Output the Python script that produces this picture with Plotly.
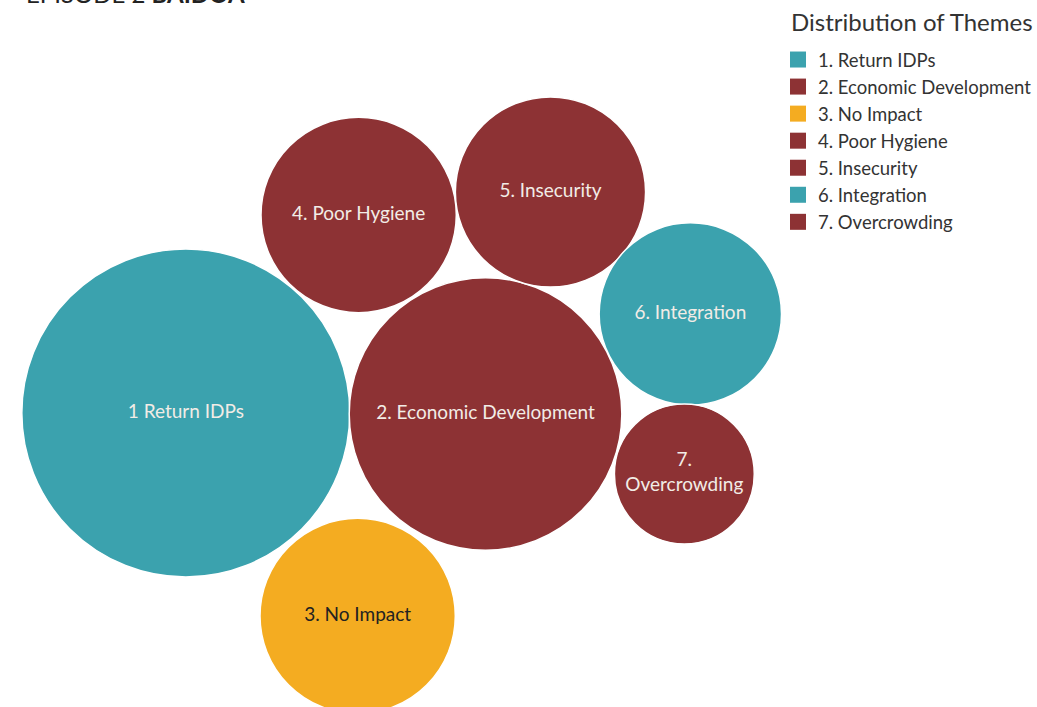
import plotly.graph_objects as go
import numpy as np

# Themes and (estimated) relative sizes
themes = ["1. Return IDPs", "2. Economic Development", "3. No Impact", "4. Poor Hygiene",
          "5. Insecurity", "6. Integration", "7. Overcrowding"]
bubble_labels = ["1 Return IDPs", "2. Economic Development", "3. No Impact", "4. Poor Hygiene",
                 "5. Insecurity", "6. Integration", "7.<br>Overcrowding"]
values = [55, 38, 19.5, 19.5, 18.5, 17, 10]
# packed layout positions (pixel-like coordinates)
pos_x = [186, 486, 358, 359, 551, 691, 685]
pos_y = [413, 414, 616, 215, 192, 314, 474]
colors = ["#3BA2AE", "#8D3234", "#F4AC21", "#8D3234", "#8D3234", "#3BA2AE", "#8D3234"]
text_colors = ["#F2ECE6", "#F2ECE6", "#222222", "#F2ECE6", "#F2ECE6", "#F2ECE6", "#F2ECE6"]

W, H = 1037, 707
diam = 328 / np.sqrt(max(values)) * np.sqrt(np.array(values))

fig = go.Figure()
for i in range(len(themes)):
    fig.add_trace(go.Scatter(
        x=[pos_x[i]], y=[pos_y[i]], mode="markers+text",
        marker=dict(size=[diam[i]], sizemode="diameter", color=colors[i],
                    line=dict(color="white", width=1.5), opacity=1),
        text=[bubble_labels[i]], textposition="middle center",
        textfont=dict(family="Lato", size=19, color=text_colors[i]),
        showlegend=False, hoverinfo="skip"))

for i in range(len(themes)):
    fig.add_trace(go.Scatter(
        x=[None], y=[None], mode="markers", name=themes[i],
        marker=dict(symbol="square", size=18, color=colors[i]),
        showlegend=True))

fig.add_annotation(
    x=24 / W, y=1.0, xref="paper", yref="paper", xanchor="left", yanchor="bottom",
    yshift=-10, text="EPISODE 2 <b>BAIDOA</b>", showarrow=False,
    font=dict(family="Lato", size=24, color="#222222"))

fig.add_annotation(
    x=790 / W, y=1 - 22 / H, xref="paper", yref="paper", xanchor="left", yanchor="middle",
    text="Distribution of Themes", showarrow=False,
    font=dict(family="Lato", size=24, color="#333333"))

fig.update_layout(
    width=W, height=H, margin=dict(l=0, r=0, t=0, b=0),
    paper_bgcolor="white", plot_bgcolor="white",
    xaxis=dict(range=[0, W], visible=False, fixedrange=True),
    yaxis=dict(range=[H, 0], visible=False, fixedrange=True),
    showlegend=True,
    legend=dict(
        x=779 / W, y=1 - 41 / H, xanchor="left", yanchor="top",
        font=dict(family="Lato", size=18.5, color="#333333"),
        bgcolor="rgba(0,0,0,0)", tracegroupgap=0),
)

fig.write_html("out.html", config={"displayModeBar": False},
               post_script="document.body.style.margin='0';document.body.style.overflow='hidden';")
